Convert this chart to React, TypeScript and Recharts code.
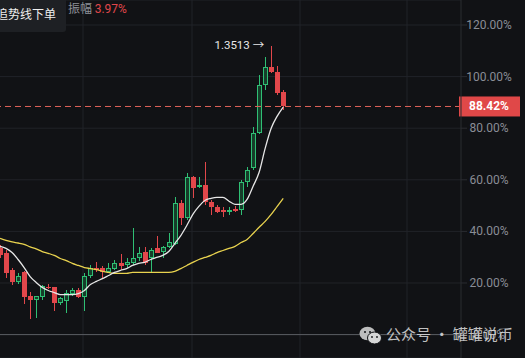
import React from "react";
import {
  ComposedChart,
  Bar,
  Line,
  XAxis,
  YAxis,
  CartesianGrid,
  ReferenceLine,
  ReferenceDot,
} from "recharts";

// candle values (percent change)
const opens = [33.4, 31.8, 24.9, 20.2, 24.1, 15.1, 13.6, 14.4, 18.3, 18.3, 12.4, 13.2, 15.9, 17.1, 14.4, 22.9, 26.0, 26.0, 24.1, 25.6, 27.6, 26.8, 27.6, 29.5, 32.2, 29.5, 33.4, 32.2, 33.8, 35.3, 50.9, 45.0, 61.0, 57.1, 57.9, 51.3, 49.3, 48.2, 47.4, 48.5, 48.2, 59.0, 64.5, 78.1, 96.7, 103.7, 101.7, 94.0];
const highs = [34.6, 32.6, 26.0, 23.7, 24.5, 16.7, 15.1, 19.4, 19.8, 18.6, 14.4, 17.1, 17.9, 17.9, 23.7, 26.8, 28.0, 26.4, 27.6, 29.1, 31.1, 29.5, 41.2, 33.8, 33.8, 33.4, 38.4, 34.2, 39.2, 53.2, 52.0, 62.5, 61.4, 61.0, 66.8, 52.0, 50.1, 49.3, 49.3, 49.7, 59.8, 64.9, 80.4, 100.6, 107.6, 111.8, 104.1, 94.8];
const lows = [29.5, 22.1, 19.4, 19.8, 12.0, 6.2, 6.6, 13.6, 17.5, 9.3, 11.3, 8.2, 15.1, 14.0, 9.3, 22.1, 24.1, 21.7, 23.7, 24.9, 24.9, 25.9, 26.8, 28.7, 26.8, 24.1, 31.5, 29.5, 33.4, 34.6, 42.3, 44.3, 52.8, 56.7, 50.1, 46.2, 47.0, 45.4, 46.2, 47.4, 46.2, 57.1, 63.7, 77.7, 94.8, 101.4, 92.8, 87.0];
const closes = [30.7, 23.7, 20.2, 22.9, 14.4, 13.6, 14.8, 19.0, 17.9, 12.4, 14.0, 16.3, 17.1, 14.4, 22.9, 25.9, 25.2, 24.1, 26.0, 27.6, 26.4, 28.3, 29.5, 31.8, 27.6, 32.6, 31.8, 33.8, 35.7, 50.9, 45.0, 61.0, 56.7, 57.9, 51.3, 49.3, 47.4, 47.4, 48.2, 47.8, 59.0, 63.7, 78.1, 96.7, 103.7, 101.7, 93.6, 88.42];

// moving averages
const maFast = [34.2, 33.4, 31.8, 29.1, 26.0, 22.5, 20.2, 18.3, 17.1, 16.3, 15.5, 15.5, 15.5, 15.9, 17.1, 19.4, 20.6, 21.7, 22.9, 24.1, 24.9, 25.6, 26.8, 27.6, 28.0, 29.1, 29.9, 30.7, 32.2, 35.3, 38.4, 42.3, 46.6, 49.7, 52.0, 52.8, 53.2, 53.2, 51.7, 50.5, 50.5, 52.4, 57.5, 62.9, 72.2, 80.0, 84.7, 88.2];
const maSlow = [37.3, 36.5, 35.9, 35.5, 35.0, 34.0, 33.2, 32.2, 31.5, 30.7, 29.5, 28.7, 27.6, 26.8, 26.0, 25.6, 25.2, 24.5, 24.1, 23.7, 23.7, 23.7, 24.1, 24.1, 24.1, 24.1, 24.1, 24.1, 24.1, 24.5, 25.6, 26.8, 28.0, 29.1, 29.9, 30.7, 31.8, 32.6, 33.4, 34.2, 35.7, 36.9, 39.2, 41.6, 43.9, 46.6, 49.7, 52.8];

const yTicks = [0, 20, 40, 60, 80, 100, 120];
const lastPrice = 88.42;
const highText = "1.3513";
const amplitude = "3.97%";
const emptySlots = 29;

const data = [
  ...opens.map((o, i) => ({
    i: String(i),
    open: o,
    high: highs[i],
    low: lows[i],
    close: closes[i],
    range: [lows[i], highs[i]],
    maFast: maFast[i],
    maSlow: maSlow[i],
  })),
  ...Array.from({ length: emptySlots }, (_, k) => ({ i: "e" + k })),
];

const peakIndex = highs.indexOf(Math.max(...highs));

const GREEN = "#2fbf74";
const GREEN_FILL = "#163d2a";
const RED = "#e2474b";

const Candle = (props: any) => {
  const { x, y, width, height, payload } = props;
  if (!payload || payload.open == null) return null;
  const { open, close, high, low } = payload;
  const top = Math.min(y, y + height);
  const h = Math.abs(height);
  const k = h / (high - low || 1);
  const yOf = (v: number) => top + (high - v) * k;
  const cx = Math.round(x + width / 2);
  const up = close >= open;
  const bTop = yOf(Math.max(open, close));
  const bBot = yOf(Math.min(open, close));
  const bh = Math.max(1, bBot - bTop);
  if (up) {
    return (
      <g shapeRendering="crispEdges">
        <line x1={cx + 0.5} x2={cx + 0.5} y1={yOf(high)} y2={bTop} stroke={GREEN} />
        <line x1={cx + 0.5} x2={cx + 0.5} y1={bTop + bh} y2={yOf(low)} stroke={GREEN} />
        <rect x={cx - 2} y={bTop} width={5} height={bh} fill={GREEN} />
        {bh > 2 && <rect x={cx - 1} y={bTop + 1} width={3} height={bh - 2} fill={GREEN_FILL} />}
      </g>
    );
  }
  return (
    <g shapeRendering="crispEdges">
      <line x1={cx + 0.5} x2={cx + 0.5} y1={yOf(high)} y2={yOf(low)} stroke={RED} />
      <rect x={cx - 2} y={bTop} width={5} height={bh} fill={RED} />
    </g>
  );
};

const PctTick = (props: any) => {
  const { x, y, payload } = props;
  return (
    <text x={x + 22} y={y} dy={4} textAnchor="middle" fill="#8a8d96" fontSize={12}>
      {payload.value.toFixed(2)}%
    </text>
  );
};

const PriceTag = (props: any) => {
  const vb = props.viewBox || {};
  const right = vb.x + vb.width;
  return (
    <g>
      <rect x={right - 2} y={vb.y - 10} width={61} height={20} fill="#e04848" />
      <text x={right + 28} y={vb.y} dy={4} textAnchor="middle" fill="#fff" fontSize={12} fontWeight="bold">
        {lastPrice.toFixed(2)}%
      </text>
    </g>
  );
};

const HighLabel = (props: any) => {
  const vb = props.viewBox || {};
  return (
    <text x={vb.x - 7} y={vb.y - 1} dy={4} textAnchor="end" fill="#e8e8e8" fontSize={11.5}>
      {highText} →
    </text>
  );
};

const WeChatIcon = () => (
  <svg width={24} height={19} style={{ position: "absolute", left: 359, top: 326 }}>
    <ellipse cx={8.5} cy={7.5} rx={8} ry={6.8} fill="#bdbdbd" />
    <ellipse cx={15.5} cy={12} rx={7} ry={6} fill="#d6d6d6" stroke="#111215" strokeWidth={1} />
    <circle cx={6} cy={6} r={1} fill="#111215" />
    <circle cx={11} cy={6} r={1} fill="#111215" />
    <circle cx={13} cy={11} r={0.9} fill="#111215" />
    <circle cx={18} cy={11} r={0.9} fill="#111215" />
  </svg>
);

const App: React.FC = () => {
  return (
    <div
      style={{
        position: "relative",
        width: 525,
        height: 358,
        background: "#111215",
        overflow: "hidden",
        fontFamily: "Roboto, 'Noto Sans CJK SC', sans-serif",
      }}
    >
      <style>{`body{margin:0}`}</style>
      <div style={{ position: "absolute", left: -3, top: 0 }}>
        <ComposedChart
          width={528}
          height={358}
          data={data}
          margin={{ top: 0, right: 0, bottom: 0, left: 0 }}
          barCategoryGap={0}
        >
          <CartesianGrid
            stroke="#212328"
            verticalPoints={[86, 195, 303, 410]}
          />
          <XAxis dataKey="i" hide />
          <YAxis
            orientation="right"
            width={64}
            domain={[-9.07, 129.69]}
            allowDataOverflow
            ticks={yTicks}
            interval={0}
            axisLine={{ stroke: "#2a2c31" }}
            tickLine={{ stroke: "#2a2c31" }}
            tickSize={6}
            tickMargin={0}
            tick={<PctTick />}
          />
          <ReferenceLine y={0} stroke="#5a5c62" />
          <Line
            dataKey="maSlow"
            type="monotone"
            stroke="#e9d34f"
            strokeWidth={1.3}
            dot={false}
            isAnimationActive={false}
          />
          <Bar dataKey="range" shape={<Candle />} isAnimationActive={false} />
          <Line
            dataKey="maFast"
            type="monotone"
            stroke="#e6e6e6"
            strokeWidth={1.3}
            dot={false}
            isAnimationActive={false}
          />
          <ReferenceLine
            y={lastPrice}
            stroke="#e0625a"
            strokeDasharray="6 4"
            label={(p: any) => <PriceTag {...p} />}
          />
          <ReferenceDot
            x={String(peakIndex)}
            y={highs[peakIndex]}
            r={0}
            fill="none"
            stroke="none"
            label={(p: any) => <HighLabel {...p} />}
          />
        </ComposedChart>
      </div>

      <div
        style={{
          position: "absolute",
          left: 0,
          top: 0,
          width: 66,
          height: 32,
          background: "#1e2024",
          borderBottomRightRadius: 3,
        }}
      />
      <div
        style={{
          position: "absolute",
          left: -4,
          top: 7,
          fontSize: 12,
          lineHeight: "14px",
          color: "#eeeeee",
          whiteSpace: "nowrap",
          fontFamily: "'Noto Sans CJK SC', sans-serif",
        }}
      >
        追势线下单
      </div>
      <div
        style={{
          position: "absolute",
          left: 68,
          top: 1,
          fontSize: 12,
          lineHeight: "14px",
          whiteSpace: "nowrap",
          fontFamily: "'Noto Sans CJK SC', sans-serif",
        }}
      >
        <span style={{ color: "#8e9098" }}>振幅 </span>
        <span style={{ color: "#e0474b", fontFamily: "Roboto, sans-serif" }}>{amplitude}</span>
      </div>

      <WeChatIcon />
      <div
        style={{
          position: "absolute",
          left: 386,
          top: 325,
          fontSize: 15,
          lineHeight: "18px",
          color: "rgba(225,225,225,0.85)",
          whiteSpace: "nowrap",
          fontFamily: "'Noto Sans CJK SC', sans-serif",
        }}
      >
        公众号 · 罐罐说币
      </div>
    </div>
  );
};

export default App;
